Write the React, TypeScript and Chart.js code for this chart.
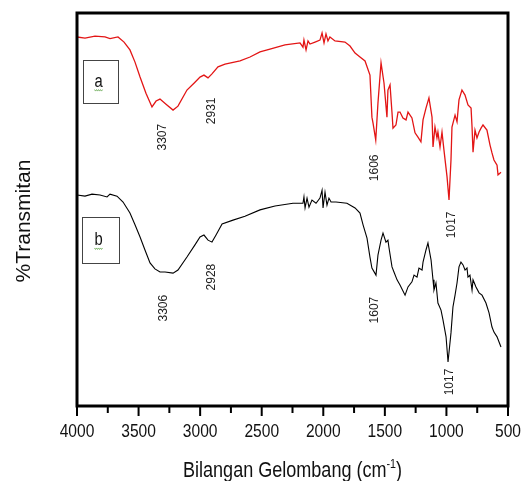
import { useEffect, useRef } from 'react';
import { Chart, registerables } from 'chart.js';

Chart.register(...registerables);

// Spectrum a (red)
const waveA = [4000, 3935, 3854, 3773, 3732, 3667, 3618, 3570, 3529, 3488, 3440, 3391, 3358, 3326, 3277, 3220, 3180, 3107, 3042, 3001, 2969, 2936, 2904, 2855, 2798, 2676, 2595, 2514, 2433, 2311, 2189, 2165, 2157, 2140, 2124, 2108, 2067, 2027, 2010, 1994, 1978, 1962, 1946, 1905, 1824, 1783, 1742, 1702, 1661, 1621, 1605, 1596, 1574, 1556, 1531, 1507, 1483, 1475, 1458, 1442, 1434, 1410, 1393, 1377, 1353, 1328, 1312, 1280, 1255, 1231, 1207, 1190, 1166, 1142, 1117, 1109, 1093, 1077, 1069, 1052, 1036, 1020, 995, 979, 963, 955, 930, 914, 898, 874, 849, 825, 800, 792, 784, 768, 752, 735, 719, 703, 671, 646, 630, 614, 589, 581, 557];
const transA = [93.9, 93.6, 94.1, 93.9, 93.5, 93.9, 92.6, 90.6, 87.5, 83.7, 79.6, 76.1, 77.6, 78.1, 76.8, 75.3, 76.3, 80.4, 82.4, 83.7, 84.2, 83.5, 84.5, 86.3, 87.0, 87.8, 88.8, 90.1, 90.8, 91.9, 92.4, 91.3, 93.1, 90.6, 92.9, 92.1, 92.6, 93.1, 94.9, 92.4, 94.7, 92.9, 93.9, 92.9, 92.6, 91.6, 89.8, 88.8, 87.8, 84.2, 73.5, 72.0, 67.7, 77.1, 87.3, 82.2, 73.5, 80.4, 81.7, 74.6, 70.7, 71.5, 74.8, 74.8, 73.3, 72.8, 74.8, 73.3, 69.5, 68.4, 67.2, 72.8, 75.8, 78.4, 73.5, 65.9, 71.0, 68.2, 69.7, 65.9, 69.7, 65.1, 58.3, 52.4, 62.6, 71.0, 74.0, 72.3, 77.9, 80.4, 79.1, 76.6, 75.8, 71.0, 64.6, 70.2, 68.2, 69.7, 70.7, 71.5, 70.2, 66.4, 64.4, 62.6, 61.3, 58.8, 59.5];

// Spectrum b (black)
const waveB = [4000, 3935, 3878, 3813, 3756, 3732, 3675, 3626, 3570, 3529, 3488, 3448, 3407, 3367, 3326, 3285, 3220, 3180, 3107, 3042, 3001, 2969, 2936, 2904, 2871, 2822, 2733, 2636, 2514, 2392, 2246, 2165, 2157, 2148, 2132, 2116, 2092, 2059, 2027, 2010, 2002, 1986, 1970, 1954, 1937, 1897, 1808, 1742, 1702, 1677, 1645, 1621, 1605, 1572, 1556, 1531, 1515, 1491, 1475, 1466, 1442, 1426, 1401, 1377, 1336, 1312, 1280, 1263, 1239, 1223, 1198, 1190, 1166, 1150, 1125, 1109, 1101, 1085, 1069, 1044, 1028, 1003, 987, 963, 947, 930, 914, 898, 882, 865, 849, 833, 825, 809, 792, 784, 760, 735, 711, 679, 654, 630, 614, 589, 557];
const transB = [53.7, 53.4, 53.9, 53.7, 53.2, 53.9, 53.4, 51.9, 49.1, 46.1, 43.0, 39.7, 36.4, 34.9, 34.1, 34.1, 33.8, 34.6, 37.9, 41.0, 43.0, 43.5, 42.2, 41.7, 43.5, 46.3, 47.3, 48.3, 49.9, 50.9, 51.6, 51.6, 53.2, 50.4, 52.9, 50.6, 52.4, 51.6, 52.9, 54.9, 50.4, 54.4, 51.1, 52.9, 51.9, 51.9, 51.6, 50.4, 49.1, 46.1, 42.7, 37.9, 35.1, 33.3, 38.4, 42.2, 44.0, 41.7, 42.2, 40.2, 35.4, 34.1, 32.1, 30.8, 28.2, 30.3, 31.6, 33.3, 32.8, 35.1, 34.6, 36.6, 39.7, 41.5, 37.2, 32.1, 29.5, 31.3, 26.2, 24.4, 21.9, 17.6, 11.2, 18.6, 25.2, 28.2, 31.3, 35.4, 36.6, 35.9, 34.6, 35.1, 32.8, 33.3, 29.5, 32.1, 30.3, 28.8, 28.2, 26.2, 23.7, 20.1, 18.8, 17.6, 15.0];

// Axis ticks
const majorTicks = [4000, 3500, 3000, 2500, 2000, 1500, 1000, 500];
const minorTicks = [3750, 3250, 2750, 2250, 1750, 1250, 750];

// Peak annotations
const peakTextA = ['3307', '2931', '1606', '1017'];
const peakXA = [3302, 2904, 1580, 955];
const peakYA = [68.4, 75.1, 60.6, 46.1];
const peakTextB = ['3306', '2928', '1607', '1017'];
const peakXB = [3294, 2904, 1580, 971];
const peakYB = [24.9, 32.8, 24.4, 6.1];

const xTitle = 'Bilangan Gelombang (cm';
const xTitleSup = '-1';
const yTitle = '%Transmitan';

const SANS = "'Liberation Sans', Arial, sans-serif";
const SQUEEZE = 0.82;

const overlay = {
  id: 'overlay',
  afterDatasetsDraw(chart: any) {
    const { ctx, chartArea, scales } = chart;
    const { left, right, top, bottom } = chartArea;
    const xs = scales.x;
    const ys = scales.y;
    ctx.save();
    // frame
    ctx.strokeStyle = '#000';
    ctx.lineWidth = 3;
    ctx.strokeRect(left, top, right - left, bottom - top);
    // ticks
    ctx.lineWidth = 2;
    ctx.beginPath();
    for (const v of majorTicks) {
      const px = xs.getPixelForValue(v);
      ctx.moveTo(px, bottom);
      ctx.lineTo(px, bottom + 10);
    }
    for (const v of minorTicks) {
      const px = xs.getPixelForValue(v);
      ctx.moveTo(px, bottom);
      ctx.lineTo(px, bottom + 7);
    }
    ctx.stroke();

    // narrow text helper
    const narrow = (t: string, x: number, y: number, size: number, align: CanvasTextAlign) => {
      ctx.save();
      ctx.translate(x, y);
      ctx.scale(SQUEEZE, 1);
      ctx.font = `${size}px ${SANS}`;
      ctx.textAlign = align;
      ctx.fillText(t, 0, 0);
      ctx.restore();
    };

    // tick labels
    ctx.fillStyle = '#111';
    ctx.textBaseline = 'alphabetic';
    for (const v of majorTicks) {
      narrow(String(v), xs.getPixelForValue(v), bottom + 31, 19, 'center');
    }

    // peak labels
    ctx.fillStyle = '#222';
    ctx.font = `12px ${SANS}`;
    ctx.textAlign = 'center';
    ctx.textBaseline = 'middle';
    const drawRot = (t: string, wx: number, wy: number) => {
      ctx.save();
      ctx.translate(xs.getPixelForValue(wx), ys.getPixelForValue(wy));
      ctx.rotate(-Math.PI / 2);
      ctx.fillText(t, 0, 0);
      ctx.restore();
    };
    peakTextA.forEach((t, i) => drawRot(t, peakXA[i], peakYA[i]));
    peakTextB.forEach((t, i) => drawRot(t, peakXB[i], peakYB[i]));

    // boxes
    const box = (label: string, x1: number, x2: number, y1: number, y2: number) => {
      const px1 = xs.getPixelForValue(x1);
      const px2 = xs.getPixelForValue(x2);
      const py1 = ys.getPixelForValue(y1);
      const py2 = ys.getPixelForValue(y2);
      ctx.strokeStyle = '#444';
      ctx.lineWidth = 1;
      ctx.strokeRect(Math.round(px1) + 0.5, Math.round(py1) + 0.5, Math.round(px2 - px1), Math.round(py2 - py1));
      const cx = (px1 + px2) / 2 - 2;
      const cy = (py1 + py2) / 2;
      ctx.fillStyle = '#111';
      ctx.textBaseline = 'alphabetic';
      narrow(label, cx, cy + 5, 18, 'center');
      // spell-check squiggle
      ctx.strokeStyle = '#7cb46a';
      ctx.beginPath();
      for (let k = 0; k <= 8; k++) {
        const sx = cx - 4 + k;
        const sy = cy + 8 + (k % 2 === 0 ? 0 : 1.5);
        if (k === 0) ctx.moveTo(sx, sy); else ctx.lineTo(sx, sy);
      }
      ctx.stroke();
    };
    box('a', 3951, 3667, 88.0, 77.1);
    box('b', 3959, 3659, 48.1, 36.4);

    // x title
    ctx.fillStyle = '#111';
    ctx.textBaseline = 'alphabetic';
    ctx.font = `22px ${SANS}`;
    const w1 = ctx.measureText(xTitle).width * SQUEEZE;
    ctx.font = `13px ${SANS}`;
    const w2 = ctx.measureText(xTitleSup).width * SQUEEZE;
    ctx.font = `22px ${SANS}`;
    const w3 = ctx.measureText(')').width * SQUEEZE;
    const total = w1 + w2 + w3;
    let sx = (left + right) / 2 - total / 2;
    const base = 477;
    narrow(xTitle, sx, base, 22, 'left');
    sx += w1;
    narrow(xTitleSup, sx, base - 9, 13, 'left');
    sx += w2;
    narrow(')', sx, base, 22, 'left');

    // y title
    ctx.save();
    ctx.translate(24, top + 208);
    ctx.rotate(-Math.PI / 2);
    ctx.textAlign = 'center';
    ctx.textBaseline = 'middle';
    ctx.font = `21px ${SANS}`;
    ctx.fillText(yTitle, 0, 0);
    ctx.restore();

    ctx.restore();
  },
};

export default function App() {
  const ref = useRef<HTMLCanvasElement | null>(null);
  useEffect(() => {
    if (!ref.current) return;
    const chart = new Chart(ref.current, {
      type: 'line',
      data: {
        datasets: [
          {
            label: 'a',
            data: waveA.map((w, i) => ({ x: w, y: transA[i] })),
            borderColor: '#e31515',
            borderWidth: 1.3,
            pointRadius: 0,
            tension: 0,
            fill: false,
          },
          {
            label: 'b',
            data: waveB.map((w, i) => ({ x: w, y: transB[i] })),
            borderColor: '#000000',
            borderWidth: 1.1,
            pointRadius: 0,
            tension: 0,
            fill: false,
          },
        ],
      },
      options: {
        animation: false,
        responsive: false,
        devicePixelRatio: 1,
        layout: { padding: { top: 13, right: 19, left: 0, bottom: 0 } },
        plugins: { legend: { display: false }, tooltip: { enabled: false } },
        scales: {
          x: {
            type: 'linear',
            reverse: true,
            min: 500,
            max: 4000,
            afterBuildTicks: (s: any) => {
              s.ticks = majorTicks.map((v) => ({ value: v }));
            },
            afterFit: (s: any) => {
              s.height = 75;
            },
            grid: { display: false, drawTicks: false },
            border: { display: false },
            ticks: { display: false },
          },
          y: {
            min: 0,
            max: 100,
            afterFit: (s: any) => {
              s.width = 77;
            },
            grid: { display: false, drawTicks: false },
            border: { display: false },
            ticks: { display: false },
          },
        },
      },
      plugins: [overlay],
    });
    return () => chart.destroy();
  }, []);
  return (
    <div style={{ position: 'fixed', left: 0, top: 0, width: 527, height: 481, background: '#fff' }}>
      <canvas ref={ref} width={527} height={481} style={{ display: 'block' }} />
    </div>
  );
}
